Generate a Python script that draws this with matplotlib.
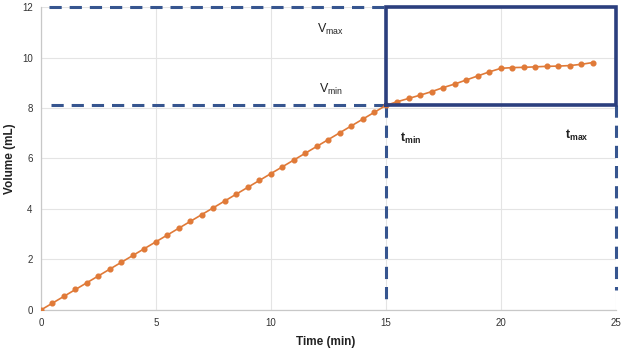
import matplotlib.pyplot as plt

# data
time_min = [i * 0.5 for i in range(49)]
volume_ml = [0.00, 0.27, 0.54, 0.81, 1.08, 1.35, 1.62, 1.89, 2.16, 2.43,
             2.70, 2.97, 3.24, 3.51, 3.78, 4.05, 4.32, 4.59, 4.86, 5.13,
             5.40, 5.67, 5.94, 6.21, 6.48, 6.75, 7.02, 7.29, 7.56, 7.83,
             8.10, 8.25, 8.38, 8.51, 8.65, 8.81, 8.95, 9.11, 9.27, 9.43,
             9.57, 9.60, 9.61, 9.63, 9.65, 9.66, 9.68, 9.73, 9.80]
x_ticks = [0, 5, 10, 15, 20, 25]
y_ticks = [0, 2, 4, 6, 8, 10, 12]
t_min, t_max = 15, 25
v_min, v_max = 8.1, 12

navy = '#2b3f7e'
dash_col = '#36558f'
orange = '#e07a38'

plt.rcParams['font.family'] = ['Liberation Sans', 'DejaVu Sans']
fig = plt.figure(figsize=(6.24, 3.51), dpi=100)
ax = fig.add_axes([0.0657, 0.117, 0.921, 0.863])

ax.plot(time_min, volume_ml, color=orange, lw=1.2, marker='o', ms=3.4,
        markerfacecolor=orange, markeredgecolor=orange, zorder=4)

# dashed guide lines
dash = dict(color=dash_col, lw=2.2, dashes=(4, 2.6), clip_on=False, zorder=3)
ax.plot([0.35, t_min], [v_max, v_max], **dash)
ax.plot([0.45, t_min], [v_min, v_min], **dash)
ax.plot([t_min, t_min], [v_min, 0.3], **dash)
ax.plot([t_max, t_max], [v_min, 0.8], **dash)

# solid box
ax.plot([t_min, t_max, t_max, t_min, t_min], [v_min, v_min, v_max, v_max, v_min],
        color=navy, lw=2.6, clip_on=False, zorder=5, solid_joinstyle='miter')

txt = dict(fontsize=9, color='#222222', ha='center', va='center')
ax.text(12.6, 11.1, r'V$_{\mathregular{max}}$', **txt)
ax.text(12.6, 8.75, r'V$_{\mathregular{min}}$', **txt)
ax.text(16.1, 6.8, r't$_{\mathregular{min}}$', fontweight='bold', **txt)
ax.text(23.3, 6.9, r't$_{\mathregular{max}}$', fontweight='bold', **txt)

ax.set_xlim(0, 25)
ax.set_ylim(0, 12)
ax.set_xticks(x_ticks)
ax.set_yticks(y_ticks)
ax.tick_params(length=0, labelsize=7, labelcolor='#333333', pad=6)
ax.grid(True, color='#e4e4e4', lw=0.8)
ax.set_axisbelow(True)
for s in ['top', 'right']:
    ax.spines[s].set_visible(False)
for s in ['left', 'bottom']:
    ax.spines[s].set_color('#c8c8c8')
    ax.spines[s].set_linewidth(0.9)

ax.set_xlabel('Time (min)', fontsize=8.5, fontweight='bold', color='#222222')
ax.set_ylabel('Volume (mL)', fontsize=8.5, fontweight='bold', color='#222222')
ax.xaxis.set_label_coords(0.496, -0.085)
ax.yaxis.set_label_coords(-0.044, 0.5)

fig.savefig('out.png', dpi=100)
